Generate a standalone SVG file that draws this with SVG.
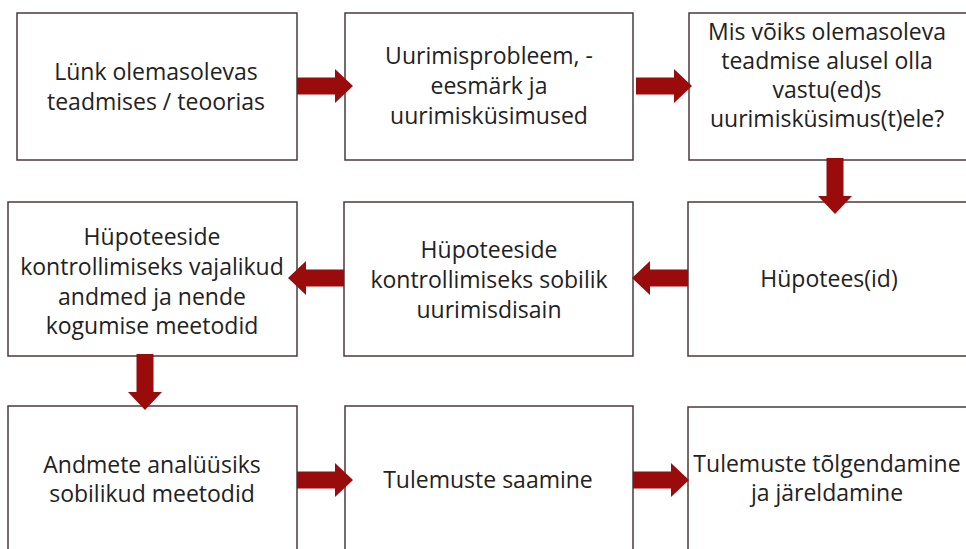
<svg xmlns="http://www.w3.org/2000/svg" xmlns:xlink="http://www.w3.org/1999/xlink" width="966" height="549" viewBox="0 0 966 549">
<style>
.box{fill:#ffffff;stroke:#4a3a3a;stroke-width:1.5}
.t{font-family:"Open Sans","Liberation Sans",sans-serif;font-size:23px;fill:#222222;text-anchor:middle}
.arr{fill:#9a0b0b}
</style>
<defs>
<path id="arrow" d="M0,-8.5 H38 V-17 L56,0 L38,17 V8.5 H0 Z"/>
</defs>
<rect width="966" height="549" fill="#ffffff"/>
<g id="n1"><rect class="box" x="17" y="13" width="280" height="147"/>
<text class="t" x="156" y="80">Lünk olemasolevas</text>
<text class="t" x="156" y="110">teadmises / teoorias</text></g>
<g id="n2"><rect class="box" x="345" y="13" width="288" height="147"/>
<text class="t" x="489" y="64">Uurimisprobleem, -</text>
<text class="t" x="489" y="94">eesmärk ja</text>
<text class="t" x="489" y="124">uurimisküsimused</text></g>
<g id="n3"><rect class="box" x="689" y="13" width="290" height="147"/>
<text class="t" x="827" y="40">Mis võiks olemasoleva</text>
<text class="t" x="827" y="69">teadmise alusel olla</text>
<text class="t" x="827" y="98">vastu(ed)s</text>
<text class="t" x="827" y="127">uurimisküsimus(t)ele?</text></g>
<g id="n4"><rect class="box" x="688" y="202" width="290" height="154"/>
<text class="t" x="829" y="287">Hüpotees(id)</text></g>
<g id="n5"><rect class="box" x="344" y="202" width="289" height="154"/>
<text class="t" x="489" y="258">Hüpoteeside</text>
<text class="t" x="489" y="288">kontrollimiseks sobilik</text>
<text class="t" x="489" y="318">uurimisdisain</text></g>
<g id="n6"><rect class="box" x="8" y="202" width="289" height="154"/>
<text class="t" x="152" y="245">Hüpoteeside</text>
<text class="t" x="152" y="275">kontrollimiseks vajalikud</text>
<text class="t" x="152" y="305">andmed ja nende</text>
<text class="t" x="152" y="334">kogumise meetodid</text></g>
<g id="n7"><rect class="box" x="8" y="406" width="289" height="160"/>
<text class="t" x="152" y="473">Andmete analüüsiks</text>
<text class="t" x="152" y="502">sobilikud meetodid</text></g>
<g id="n8"><rect class="box" x="345" y="406" width="288" height="160"/>
<text class="t" x="488" y="488">Tulemuste saamine</text></g>
<g id="n9"><rect class="box" x="688" y="407" width="290" height="160"/>
<text class="t" x="827" y="472">Tulemuste tõlgendamine</text>
<text class="t" x="827" y="501">ja järeldamine</text></g>
<g id="connectors" class="arr">
<use xlink:href="#arrow" transform="translate(297,86)"/>
<use xlink:href="#arrow" transform="translate(636,86)"/>
<use xlink:href="#arrow" transform="translate(835,158) rotate(90)"/>
<use xlink:href="#arrow" transform="translate(688,278) rotate(180)"/>
<use xlink:href="#arrow" transform="translate(344,278) rotate(180)"/>
<use xlink:href="#arrow" transform="translate(145,354) rotate(90)"/>
<use xlink:href="#arrow" transform="translate(297,480)"/>
<use xlink:href="#arrow" transform="translate(633,480)"/>
</g>
</svg>
